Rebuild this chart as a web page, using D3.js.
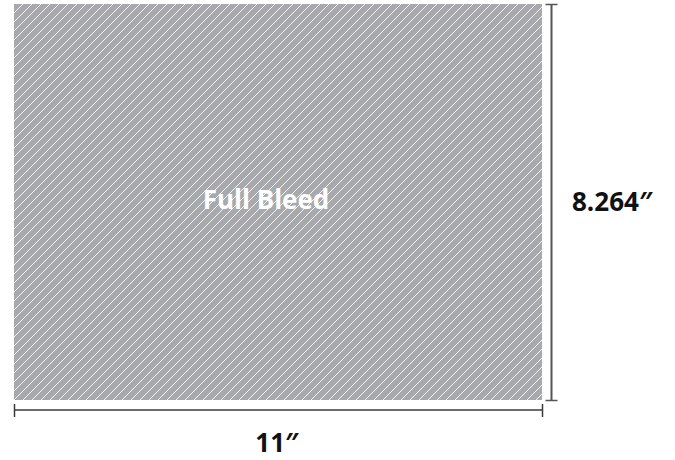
<!DOCTYPE html>
<html>
<head>
<meta charset="utf-8">
<script src="https://cdn.jsdelivr.net/npm/d3@7"></script>
<style>
  body { margin: 0; background: #fff; }
  text { font-family: "Open Sans", "DejaVu Sans", sans-serif; font-weight: bold; }
</style>
</head>
<body>
<div id="chart"></div>
<script>
var width = 675,
    height = 460;

// page size in inches
var dims = ["width", "height"];
var sizes = [11, 8.264];
var labels = ["11\u2033", "8.264\u2033"];
var areaLabel = ["Full Bleed"];

var x = d3.scaleLinear()
    .domain([0, sizes[0]])
    .range([14, 542]);

var y = d3.scaleLinear()
    .domain([0, sizes[1]])
    .range([4, 400]);

var svg = d3.select("#chart").append("svg")
    .attr("width", width)
    .attr("height", height);

// diagonal hatch
var step = 9;
var pat = svg.append("defs").append("pattern")
    .attr("id", "hatch")
    .attr("patternUnits", "userSpaceOnUse")
    .attr("width", step)
    .attr("height", step)
    .attr("x", 14)
    .attr("y", 4);

pat.append("rect")
    .attr("width", step)
    .attr("height", step)
    .attr("fill", "#a7a9ac");

pat.append("path")
    .attr("d", "M-1,1 l2,-2 M0," + step + " l" + step + ",-" + step + " M" + (step - 1) + "," + (step + 1) + " l2,-2")
    .attr("stroke", "#f4f4f4")
    .attr("stroke-width", 1);

svg.append("rect")
    .attr("x", x(0))
    .attr("y", y(0))
    .attr("width", x(sizes[0]) - x(0))
    .attr("height", y(sizes[1]) - y(0))
    .attr("fill", "url(#hatch)");

svg.append("text")
    .attr("x", 266)
    .attr("y", 209)
    .attr("text-anchor", "middle")
    .attr("fill", "#fff")
    .style("font-size", "26px")
    .text(areaLabel[0]);

var lineColor = "#3a3a3a";

// height dimension line
var vx = 551.5;
svg.append("line")
    .attr("x1", vx).attr("x2", vx)
    .attr("y1", y(0) + 1).attr("y2", y(sizes[1]))
    .attr("stroke", "#555").attr("stroke-width", 2);
[0, sizes[1]].forEach(function(d) {
  svg.append("line")
      .attr("x1", vx - 6).attr("x2", vx + 6)
      .attr("y1", y(d) + 0.5).attr("y2", y(d) + 0.5)
      .attr("stroke", "#555").attr("stroke-width", 1.5);
});

svg.append("text")
    .attr("x", 572)
    .attr("y", 211)
    .attr("fill", "#111")
    .style("font-size", "26px")
    .text(labels[1]);

// width dimension line
var hy = 410;
svg.append("line")
    .attr("x1", x(0)).attr("x2", x(sizes[0]))
    .attr("y1", hy).attr("y2", hy)
    .attr("stroke", lineColor).attr("stroke-width", 1.5);
[0, sizes[0]].forEach(function(d) {
  svg.append("line")
      .attr("x1", x(d) + 0.5).attr("x2", x(d) + 0.5)
      .attr("y1", hy - 6).attr("y2", hy + 7)
      .attr("stroke", lineColor).attr("stroke-width", 1.5);
});

svg.append("text")
    .attr("x", 277)
    .attr("y", 452)
    .attr("text-anchor", "middle")
    .attr("fill", "#111")
    .style("font-size", "26px")
    .text(labels[0]);
</script>
</body>
</html>
